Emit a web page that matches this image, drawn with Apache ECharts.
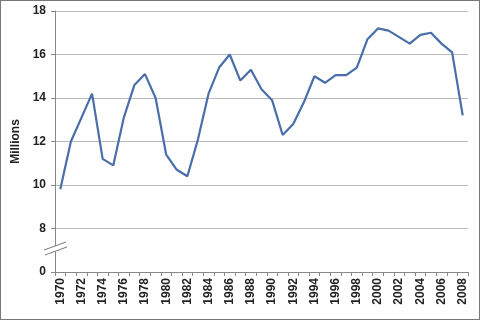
<!DOCTYPE html>
<html>
<head>
<meta charset="utf-8">
<script src="https://cdn.jsdelivr.net/npm/echarts@6/dist/echarts.min.js"></script>
<style>
  html, body { margin: 0; padding: 0; background: #fff; }
  #chart { width: 480px; height: 320px; box-sizing: border-box; border: 1px solid #777; }
</style>
</head>
<body>
<div id="chart"></div>
<script>
// years on the x axis
var years = [];
for (var y = 1970; y <= 2008; y++) years.push(String(y));

// annual sales, millions
var sales = [
  9.8, 12.0, 13.1, 14.2, 11.2, 10.9, 13.1, 14.6, 15.1, 14.0,
  11.4, 10.7, 10.4, 12.1, 14.2, 15.4, 16.0, 14.8, 15.3, 14.4,
  13.9, 12.3, 12.8, 13.8, 15.0, 14.7, 15.05, 15.05, 15.4, 16.7,
  17.2, 17.1, 16.8, 16.5, 16.9, 17.0, 16.5, 16.1, 13.2
];

// axis is broken between 0 and 8: the bottom tick (6) is shown as "0"
var axisBottom = 6;
var axisTop = 18;

var chart = echarts.init(document.getElementById('chart'));

chart.setOption({
  animation: false,
  grid: { left: 54, right: 11, top: 10, bottom: 47 },
  xAxis: {
    type: 'category',
    data: years,
    boundaryGap: true,
    axisLine: { lineStyle: { color: '#888', width: 1 } },
    axisTick: { show: true, alignWithLabel: false, interval: 0, length: 4, lineStyle: { color: '#888' } },
    axisLabel: {
      interval: 1,
      rotate: 90,
      color: '#222',
      fontFamily: 'Liberation Sans, Arial',
      fontWeight: 'bold',
      fontSize: 12,
      margin: 6
    }
  },
  yAxis: {
    type: 'value',
    min: axisBottom,
    max: axisTop,
    interval: 2,
    name: 'Millions',
    nameLocation: 'middle',
    nameGap: 32,
    nameTextStyle: { color: '#222', fontFamily: 'Liberation Sans, Arial', fontWeight: 'bold', fontSize: 12 },
    axisLine: { show: true, lineStyle: { color: '#888' } },
    axisTick: { show: true, length: 4, lineStyle: { color: '#888' } },
    axisLabel: {
      color: '#222',
      fontFamily: 'Liberation Sans, Arial',
      fontWeight: 'bold',
      fontSize: 12,
      margin: 9,
      formatter: function (v) { return v === axisBottom ? '0' : String(v); }
    },
    splitLine: {
      show: true,
      lineStyle: { color: '#bbb', width: 1 }
    }
  },
  series: [{
    type: 'line',
    data: sales,
    symbol: 'none',
    lineStyle: { color: '#4a6ea9', width: 2.2 },
    z: 3
  }],
  graphic: [
    { type: 'polygon', shape: { points: [[43, 249], [65, 241], [66, 246], [44, 254]] }, style: { fill: '#fff' }, z: 10 },
    { type: 'line', shape: { x1: 43, y1: 249, x2: 65, y2: 241 }, style: { stroke: '#777', lineWidth: 1 }, z: 11 },
    { type: 'line', shape: { x1: 44, y1: 254, x2: 66, y2: 246 }, style: { stroke: '#777', lineWidth: 1 }, z: 11 }
  ]
});
</script>
</body>
</html>
